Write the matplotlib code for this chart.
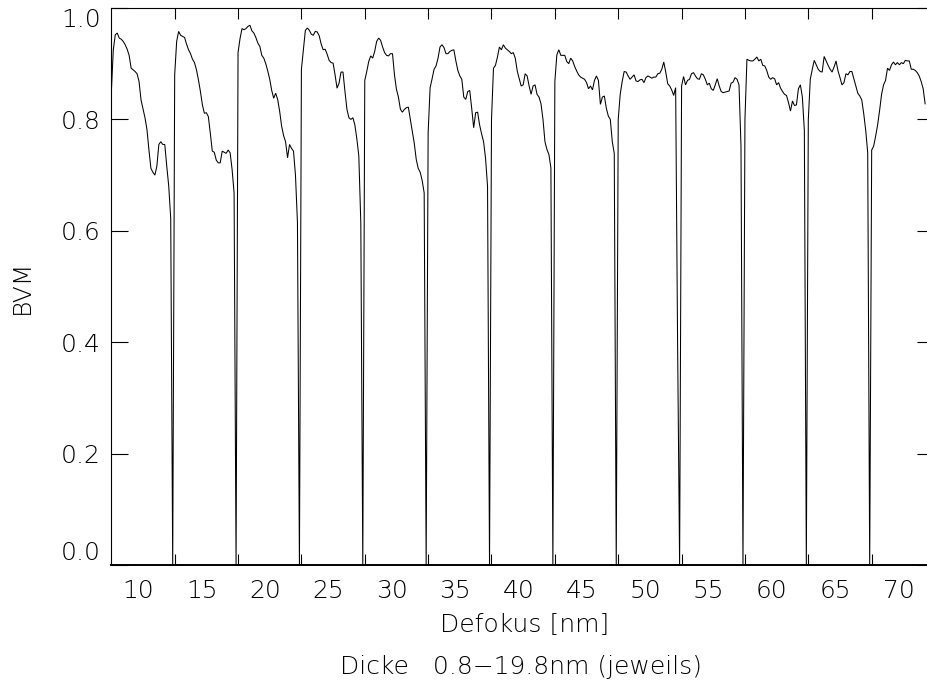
import numpy as np
import matplotlib
matplotlib.use("Agg")
import matplotlib.pyplot as plt

# ---------------- data ----------------
nan = float("nan")
# BVM values per defocus block; each block = thickness sweep 0.8-19.8 nm
seg00 = [nan, 0.848, 0.925, 0.952, 0.955, 0.946, 0.944, 0.940, 0.934, 0.926, 0.915, 0.892, 0.889, 0.886, 0.882, 0.868,
         0.835, 0.819, 0.803, 0.782, 0.745, 0.712, 0.705, 0.700, 0.716, 0.755, 0.760, 0.755, 0.755, 0.716, 0.680, 0.622]
seg01 = [0.0, 0.88, 0.94, 0.958, 0.951, 0.949, 0.947, 0.935, 0.925, 0.918, 0.908, 0.902, 0.889, 0.871, 0.85, 0.826,
         0.811, 0.812, 0.805, 0.775, 0.743, 0.741, 0.727, 0.722, 0.722, 0.743, 0.741, 0.739, 0.745, 0.74, 0.71, 0.668]
seg02 = [0.0, 0.92, 0.945, 0.963, 0.961, 0.963, 0.967, 0.969, 0.959, 0.955, 0.947, 0.937, 0.931, 0.915, 0.910, 0.90,
         0.887, 0.872, 0.852, 0.838, 0.847, 0.836, 0.815, 0.788, 0.771, 0.760, 0.731, 0.755, 0.748, 0.743, 0.70, 0.615]
seg03 = [0.0, 0.89, 0.925, 0.96, 0.964, 0.96, 0.953, 0.951, 0.958, 0.957, 0.950, 0.935, 0.925, 0.926, 0.917, 0.906,
         0.902, 0.901, 0.88, 0.856, 0.865, 0.885, 0.885, 0.85, 0.818, 0.803, 0.800, 0.803, 0.79, 0.765, 0.734, 0.614]
seg04 = [0.0, 0.87, 0.886, 0.904, 0.914, 0.910, 0.922, 0.94, 0.946, 0.942, 0.930, 0.920, 0.915, 0.914, 0.918, 0.918,
         0.88, 0.854, 0.84, 0.818, 0.813, 0.818, 0.821, 0.822, 0.80, 0.777, 0.757, 0.728, 0.712, 0.705, 0.69, 0.668]
seg05 = [0.0, 0.776, 0.857, 0.873, 0.89, 0.896, 0.91, 0.93, 0.934, 0.929, 0.918, 0.918, 0.922, 0.924, 0.925, 0.905,
         0.888, 0.878, 0.872, 0.84, 0.836, 0.85, 0.852, 0.82, 0.785, 0.812, 0.813, 0.79, 0.774, 0.76, 0.73, 0.68]
seg06 = [0.0, 0.80, 0.892, 0.897, 0.912, 0.93, 0.925, 0.934, 0.928, 0.925, 0.922, 0.918, 0.92, 0.91, 0.887, 0.873,
         0.86, 0.862, 0.882, 0.878, 0.86, 0.845, 0.86, 0.862, 0.845, 0.84, 0.828, 0.80, 0.76, 0.746, 0.737, 0.713]
seg07 = [0.0, 0.868, 0.916, 0.925, 0.915, 0.915, 0.915, 0.904, 0.90, 0.91, 0.905, 0.895, 0.887, 0.88, 0.876, 0.874,
         0.872, 0.866, 0.855, 0.86, 0.853, 0.87, 0.878, 0.87, 0.827, 0.84, 0.842, 0.82, 0.806, 0.80, 0.76, 0.739]
seg08 = [0.0, 0.80, 0.845, 0.868, 0.886, 0.885, 0.878, 0.872, 0.876, 0.88, 0.869, 0.868, 0.871, 0.872, 0.866, 0.875,
         0.878, 0.876, 0.874, 0.876, 0.876, 0.882, 0.883, 0.89, 0.903, 0.885, 0.864, 0.86, 0.853, 0.843, 0.857, 0.392]
seg09 = [0.0, 0.86, 0.877, 0.862, 0.87, 0.872, 0.882, 0.884, 0.878, 0.873, 0.872, 0.882, 0.88, 0.872, 0.862, 0.865,
         0.855, 0.852, 0.862, 0.873, 0.86, 0.85, 0.848, 0.849, 0.85, 0.851, 0.865, 0.867, 0.875, 0.872, 0.862, 0.752]
seg10 = [0.0, 0.80, 0.908, 0.906, 0.905, 0.905, 0.908, 0.912, 0.905, 0.908, 0.897, 0.896, 0.888, 0.876, 0.872, 0.875,
         0.873, 0.862, 0.866, 0.856, 0.850, 0.845, 0.843, 0.83, 0.815, 0.833, 0.825, 0.826, 0.855, 0.862, 0.84, 0.78]
seg11 = [0.0, 0.80, 0.872, 0.89, 0.906, 0.898, 0.89, 0.886, 0.885, 0.913, 0.905, 0.897, 0.89, 0.885, 0.894, 0.905,
         0.887, 0.875, 0.862, 0.866, 0.882, 0.88, 0.886, 0.886, 0.873, 0.86, 0.847, 0.842, 0.835, 0.81, 0.78, 0.74]
seg12 = [0.0, 0.745, 0.752, 0.77, 0.79, 0.816, 0.845, 0.862, 0.87, 0.892, 0.888, 0.898, 0.903, 0.898, 0.902,
         0.898, 0.902, 0.90, 0.906, 0.905, 0.905, 0.89, 0.89, 0.888, 0.884, 0.878, 0.868, 0.855, 0.828]
segments = [seg00, seg01, seg02, seg03, seg04, seg05, seg06, seg07, seg08, seg09, seg10, seg11, seg12]

block_start = 7.715          # axis position of first block start
block_width = 5.0            # width of one block on the defocus axis
samples_per_block = 32

x_label_values = [10, 15, 20, 25, 30, 35, 40, 45, 50, 55, 60, 65, 70]
x_label_texts = ["10", "15", "20", "25", "30", "35", "40", "45", "50", "55", "60", "65", "70"]
x_tick_marks = [12.87, 17.87, 22.87, 27.87, 32.87, 37.87, 42.87, 47.87, 52.87, 57.87, 62.87, 67.87]
y_ticks = [0.0, 0.2, 0.4, 0.6, 0.8, 1.0]
y_tick_texts = ["0.0", "0.2", "0.4", "0.6", "0.8", "1.0"]
x_range = (7.846, 72.75)
y_range = (0.0, 1.0)

# ---------------- build series ----------------
xs, ys = [], []
for k, seg in enumerate(segments):
    idx = np.arange(len(seg))
    xs.append(block_start + k * block_width + idx * block_width / samples_per_block)
    ys.append(np.array(seg, dtype=float))
x = np.concatenate(xs)
y = np.concatenate(ys)

# ---------------- figure ----------------
FS = 18
FONT = dict(family="DejaVu Sans", weight=200, size=FS)
plt.rcParams["font.family"] = "DejaVu Sans"

W, H = 927, 686
fig = plt.figure(figsize=(W / 100, H / 100), dpi=100)
fig.patch.set_facecolor("white")
ax = fig.add_axes([111 / W, 121 / H, 822.5 / W, 557 / H])
ax.set_facecolor("white")

ax.plot(x, y, color="black", linewidth=0.75, solid_joinstyle="miter")

ax.set_xlim(*x_range)
ax.set_ylim(*y_range)

for s in ax.spines.values():
    s.set_linewidth(0.8)
    s.set_color("black")
ax.spines["bottom"].set_linewidth(1.4)

# x axis: labels without marks, marks offset (as in reference)
ax.set_xticks(x_label_values)
ax.set_xticklabels(x_label_texts, fontdict=FONT)
ax.set_xticks(x_tick_marks, minor=True)
ax.tick_params(axis="x", which="major", length=0, pad=10.0)
ax.tick_params(axis="x", which="minor", direction="in", length=8, width=0.8,
               top=True, bottom=True, labelbottom=False)

ax.set_yticks(y_ticks)
ax.set_yticklabels(y_tick_texts, fontdict=FONT)
ax.tick_params(axis="y", which="major", direction="in", length=12.2, width=0.8,
               left=True, right=True, pad=7.5)
ylabs = ax.get_yticklabels()
ylabs[0].set_verticalalignment("bottom")
ylabs[-1].set_verticalalignment("top")

fig.text(22 / W, 1 - 287 / H, "BVM", rotation=90, ha="center", va="center",
         fontsize=FS, fontweight=200)
fig.text(525 / W, 1 - 625 / H, "Defokus [nm]", ha="center", va="center",
         fontsize=FS, fontweight=200)
fig.text(521 / W, 1 - 667 / H, "Dicke   0.8\u221219.8nm (jeweils)", ha="center", va="center",
         fontsize=FS, fontweight=200)

fig.savefig("out.png", dpi=100)
